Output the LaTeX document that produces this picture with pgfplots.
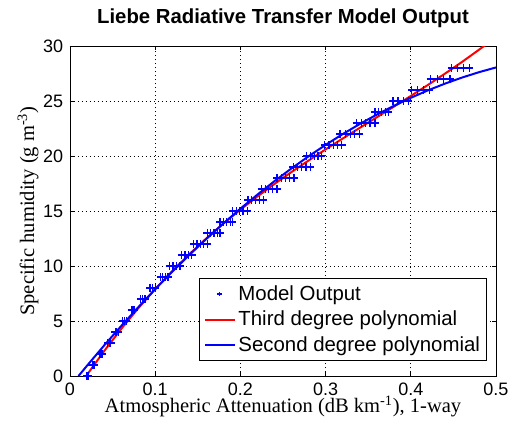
\documentclass[border=0pt]{standalone}
\usepackage{fontspec}
\setmainfont{Liberation Sans}
\newfontfamily\timesfont{Liberation Serif}
\usepackage{pgfplots}
\pgfplotsset{compat=1.18}
\pgfplotsset{
  linelegend/.style={legend image code/.code={\draw[##1] (0pt,0pt) -- (22.5pt,0pt);}},
  marklegend/.style={legend image code/.code={\draw[##1, mark size=1.6pt, line width=0.6pt] plot coordinates {(11pt,0pt)};}},
}
\begin{document}
\begin{tikzpicture}
\path[use as bounding box] (-52.5pt,-37.5pt) rectangle (333pt,282pt);
\begin{axis}[
  scale only axis, width=319.5pt, height=247.5pt,
  at={(0,0)}, anchor=south west,
  xmin=0, xmax=0.5, ymin=0, ymax=30,
  xtick={0,0.1,0.2,0.3,0.4,0.5},
  xticklabels={0,0.1,0.2,0.3,0.4,0.5},
  ytick={0,5,10,15,20,25,30},
  grid=major,
  major grid style={black, line width=0.5pt, dash pattern=on 0.75pt off 2.25pt},
  tick align=inside, major tick length=3pt,
  tick style={black, line width=0.5pt},
  axis line style={black, line width=0.5pt},
  /pgf/number format/assume math mode=true,
  ticklabel style={font=\fontsize{13.5}{15}\selectfont, inner sep=0.5pt},
  xticklabel style={yshift=-4.5pt},
  yticklabel style={xshift=-4.5pt},
  title={Liebe Radiative Transfer Model Output},
  title style={font=\bfseries\fontsize{15.25}{17}\selectfont, at={(0.5,1)}, anchor=center, yshift=15pt},
  xlabel={Atmospheric Attenuation (dB km\textsuperscript{-1}), 1-way},
  xlabel style={font=\timesfont\fontsize{15.4}{17}\selectfont, at={(0.5,0)}, anchor=center, yshift=-23pt, inner sep=0.5pt},
  ylabel={Specific humidity (g m\textsuperscript{-3})},
  ylabel style={font=\timesfont\fontsize{15.4}{17}\selectfont, at={(-0.0986,0.5)}, anchor=center, inner sep=0.5pt},
  legend cell align=left,
  legend style={draw=black, fill=white, line width=0.5pt, at={(1,0)}, anchor=south east,
    xshift=-6.75pt, yshift=11.25pt, font=\fontsize{15.3}{17}\selectfont,
    inner xsep=3pt, inner ysep=3.5pt, row sep=2.5pt,
    /tikz/every even column/.append style={column sep=1pt}},
]
\addplot[only marks, blue, mark=+, mark size=2.8pt, mark options={line width=0.9pt}, marklegend]
coordinates {
(0.020,0) (0.0215,0)
(0.026,1) (0.0275,1) (0.029,1)
(0.035,2) (0.0365,2) (0.038,2)
(0.044,3) (0.046,3) (0.048,3)
(0.053,4) (0.055,4) (0.057,4)
(0.062,5) (0.064,5) (0.066,5)
(0.072,6) (0.074,6) (0.076,6)
(0.083,7) (0.0855,7) (0.088,7)
(0.094,8) (0.097,8) (0.100,8)
(0.106,9) (0.109,9) (0.112,9) (0.115,9)
(0.117,10) (0.121,10) (0.125,10) (0.129,10)
(0.131,11) (0.135,11) (0.139,11) (0.143,11)
(0.145,12) (0.149,12) (0.153,12) (0.157,12) (0.161,12)
(0.161,13) (0.165,13) (0.169,13) (0.173,13) (0.176,13)
(0.176,14) (0.180,14) (0.184,14) (0.188,14) (0.191,14)
(0.191,15) (0.195,15) (0.199,15) (0.203,15) (0.208,15)
(0.209,16) (0.213,16) (0.218,16) (0.222,16) (0.227,16)
(0.225,17) (0.229,17) (0.233,17) (0.238,17) (0.243,17)
(0.243,18) (0.248,18) (0.253,18) (0.258,18) (0.263,18)
(0.262,19) (0.267,19) (0.272,19) (0.277,19) (0.282,19)
(0.278,20) (0.282,20) (0.287,20) (0.291,20) (0.295,20)
(0.299,21) (0.304,21) (0.309,21) (0.314,21) (0.319,21)
(0.317,22) (0.323,22) (0.329,22) (0.334,22) (0.340,22)
(0.336,23) (0.342,23) (0.347,23) (0.352,23) (0.358,23)
(0.358,24) (0.362,24) (0.366,24) (0.370,24) (0.374,24)
(0.379,25) (0.385,25) (0.391,25) (0.397,25)
(0.401,26) (0.408,26) (0.415,26) (0.422,26)
(0.423,27) (0.431,27) (0.438,27) (0.446,27)
(0.448,28) (0.455,28) (0.462,28) (0.469,28)
};
\addlegendentry{Model Output}
\addplot[red, line width=1.5pt, no marks, linelegend]
coordinates {
(0.019,0) (0.02,0.111) (0.04,2.262) (0.06,4.272) (0.08,6.148) (0.10,7.901)
(0.12,9.539) (0.14,11.071) (0.16,12.506) (0.18,13.854) (0.20,15.123)
(0.22,16.321) (0.24,17.460) (0.26,18.546) (0.28,19.590) (0.30,20.600)
(0.32,21.585) (0.34,22.555) (0.36,23.517) (0.38,24.482) (0.40,25.458)
(0.42,26.455) (0.44,27.481) (0.46,28.545) (0.48,29.657) (0.50,30.824)
};
\addlegendentry{Third degree polynomial}
\addplot[blue, line width=1.5pt, no marks, linelegend]
coordinates {
(0.01,0.002) (0.02,0.940) (0.04,2.768) (0.06,4.536) (0.08,6.244) (0.10,7.890)
(0.12,9.476) (0.14,11.000) (0.16,12.464) (0.18,13.868) (0.20,15.210)
(0.22,16.492) (0.24,17.712) (0.26,18.872) (0.28,19.972) (0.30,21.010)
(0.32,21.988) (0.34,22.904) (0.36,23.760) (0.38,24.556) (0.40,25.290)
(0.42,25.964) (0.44,26.576) (0.46,27.128) (0.48,27.620) (0.50,28.050)
};
\addlegendentry{Second degree polynomial}
\end{axis}
\end{tikzpicture}
\end{document}
